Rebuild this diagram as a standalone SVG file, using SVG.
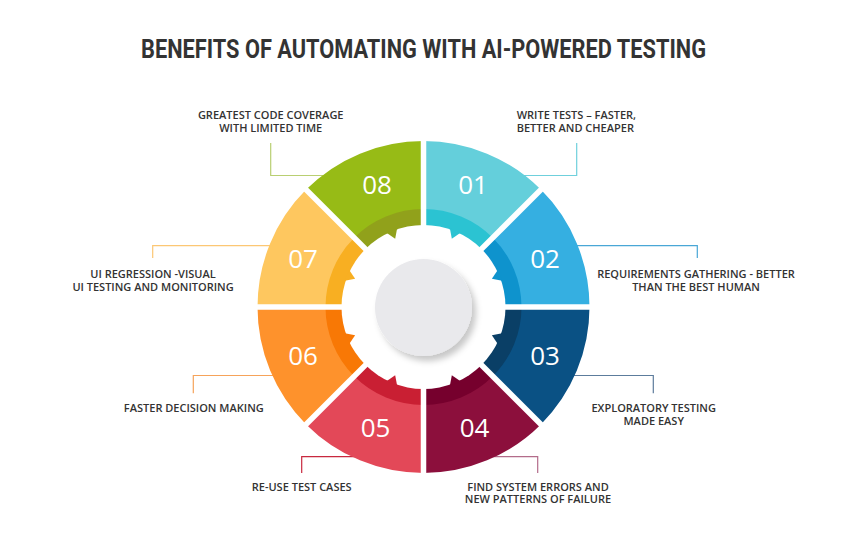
<svg xmlns="http://www.w3.org/2000/svg" xmlns:xlink="http://www.w3.org/1999/xlink" width="848" height="543" viewBox="0 0 848 543">
  <style>
    .title { font-family: Roboto, "Liberation Sans", sans-serif; font-weight: 700; font-size: 25.5px; fill: #333333; }
    .lbl { font-family: "Open Sans", "Liberation Sans", sans-serif; font-weight: 600; font-size: 11px; fill: #333333; }
    .num { font-family: "Open Sans", "Liberation Sans", sans-serif; font-weight: 500; font-size: 26px; fill: #ffffff; text-anchor: middle; }
    .mid { text-anchor: middle; }
    .conn path { fill: none; stroke-width: 1.2; }
  </style>
  <defs>
    <path id="seg" d="M423.5,141 A166,166 0 0 1 540.88,189.62 L473,257.5 A70,70 0 0 0 423.5,237 Z"/>
    <path id="band" d="M423.5,209 A98,98 0 0 1 492.8,237.7 L473,257.5 A70,70 0 0 0 423.5,237 Z"/>
    <polygon id="notch" points="449.84,228.29 460.53,232.72 451.82,238.63"/>
    <filter id="shadow" x="-30%" y="-30%" width="170%" height="170%">
      <feDropShadow dx="4" dy="5" stdDeviation="3" flood-color="#000000" flood-opacity="0.22"/>
    </filter>
  </defs>
  <rect width="848" height="543" fill="#ffffff"/>

  <text class="title" x="423.5" y="58" text-anchor="middle" textLength="565" lengthAdjust="spacingAndGlyphs">BENEFITS OF AUTOMATING WITH AI-POWERED TESTING</text>

  <g id="connectors" class="conn">
    <path d="M576.7,143 V175.5 H515" stroke="#6fd0dc"/>
    <path d="M697.3,258 V245.7 H570" stroke="#49a7d6"/>
    <path d="M653.3,393.3 V375.5 H570" stroke="#5c7c9c"/>
    <path d="M537.7,473 V456.7 H490" stroke="#b36c8a"/>
    <path d="M301.7,473 V456.7 H360" stroke="#c8293f"/>
    <path d="M193.3,393.3 V375.5 H280" stroke="#f6a35a"/>
    <path d="M152.7,258 V245.7 H277" stroke="#fcc774"/>
    <path d="M270.7,143 V175.5 H330" stroke="#b9cf72"/>
  </g>

  <g id="ring">
    <g id="node01"><use xlink:href="#seg" fill="#64cfdb"/><use xlink:href="#band" fill="#2bc3d2"/></g>
    <g id="node02"><use xlink:href="#seg" fill="#35afe1" transform="rotate(45 423.5 307)"/><use xlink:href="#band" fill="#0e93cd" transform="rotate(45 423.5 307)"/></g>
    <g id="node03"><use xlink:href="#seg" fill="#0a5184" transform="rotate(90 423.5 307)"/><use xlink:href="#band" fill="#0a3f66" transform="rotate(90 423.5 307)"/></g>
    <g id="node04"><use xlink:href="#seg" fill="#8c0f3c" transform="rotate(135 423.5 307)"/><use xlink:href="#band" fill="#76002d" transform="rotate(135 423.5 307)"/></g>
    <g id="node05"><use xlink:href="#seg" fill="#e34858" transform="rotate(180 423.5 307)"/><use xlink:href="#band" fill="#c91f33" transform="rotate(180 423.5 307)"/></g>
    <g id="node06"><use xlink:href="#seg" fill="#fe922c" transform="rotate(225 423.5 307)"/><use xlink:href="#band" fill="#f87805" transform="rotate(225 423.5 307)"/></g>
    <g id="node07"><use xlink:href="#seg" fill="#fec75f" transform="rotate(270 423.5 307)"/><use xlink:href="#band" fill="#f8af22" transform="rotate(270 423.5 307)"/></g>
    <g id="node08"><use xlink:href="#seg" fill="#97bb16" transform="rotate(315 423.5 307)"/><use xlink:href="#band" fill="#91a11b" transform="rotate(315 423.5 307)"/></g>

    <g id="gaps" stroke="#ffffff" stroke-width="5.5">
      <line x1="423.5" y1="134" x2="423.5" y2="480"/>
      <line x1="250.5" y1="307" x2="596.5" y2="307"/>
      <line x1="301.2" y1="184.7" x2="545.8" y2="429.3"/>
      <line x1="545.8" y1="184.7" x2="301.2" y2="429.3"/>
    </g>

    <g id="gear">
      <circle cx="423.5" cy="307" r="82" fill="#ffffff"/>
      <use xlink:href="#notch" fill="#2bc3d2"/>
      <use xlink:href="#notch" fill="#0e93cd" transform="rotate(45 423.5 307)"/>
      <use xlink:href="#notch" fill="#0a3f66" transform="rotate(90 423.5 307)"/>
      <use xlink:href="#notch" fill="#76002d" transform="rotate(135 423.5 307)"/>
      <use xlink:href="#notch" fill="#c91f33" transform="rotate(180 423.5 307)"/>
      <use xlink:href="#notch" fill="#f87805" transform="rotate(225 423.5 307)"/>
      <use xlink:href="#notch" fill="#f8af22" transform="rotate(270 423.5 307)"/>
      <use xlink:href="#notch" fill="#91a11b" transform="rotate(315 423.5 307)"/>
    </g>

    <g id="hub"><circle cx="423.5" cy="307.5" r="48.5" fill="#e9e9ec" filter="url(#shadow)"/></g>

    <g id="numbers">
      <text class="num" x="473" y="193.9">01</text>
      <text class="num" x="545" y="268.4">02</text>
      <text class="num" x="545" y="364.9">03</text>
      <text class="num" x="474.5" y="436.9">04</text>
      <text class="num" x="375.5" y="436.9">05</text>
      <text class="num" x="303" y="365.4">06</text>
      <text class="num" x="303" y="268.4">07</text>
      <text class="num" x="377" y="193.9">08</text>
    </g>
  </g>

  <g id="label01">
    <text class="lbl" x="516.7" y="119">WRITE TESTS – FASTER,</text>
    <text class="lbl" x="516.7" y="132">BETTER AND CHEAPER</text>
  </g>
  <g id="label02">
    <text class="lbl mid" x="696" y="277.7">REQUIREMENTS GATHERING - BETTER</text>
    <text class="lbl mid" x="696" y="291">THAN THE BEST HUMAN</text>
  </g>
  <g id="label03">
    <text class="lbl mid" x="653.7" y="412">EXPLORATORY TESTING</text>
    <text class="lbl mid" x="653.7" y="424.7">MADE EASY</text>
  </g>
  <g id="label04">
    <text class="lbl mid" x="538" y="491">FIND SYSTEM ERRORS AND</text>
    <text class="lbl mid" x="538" y="503.3">NEW PATTERNS OF FAILURE</text>
  </g>
  <g id="label05">
    <text class="lbl mid" x="301.7" y="490.7">RE-USE TEST CASES</text>
  </g>
  <g id="label06">
    <text class="lbl mid" x="193.8" y="412">FASTER DECISION MAKING</text>
  </g>
  <g id="label07">
    <text class="lbl mid" x="153" y="277.7">UI REGRESSION -VISUAL</text>
    <text class="lbl mid" x="153" y="291">UI TESTING AND MONITORING</text>
  </g>
  <g id="label08">
    <text class="lbl mid" x="270.7" y="119">GREATEST CODE COVERAGE</text>
    <text class="lbl mid" x="270.7" y="132">WITH LIMITED TIME</text>
  </g>
</svg>
